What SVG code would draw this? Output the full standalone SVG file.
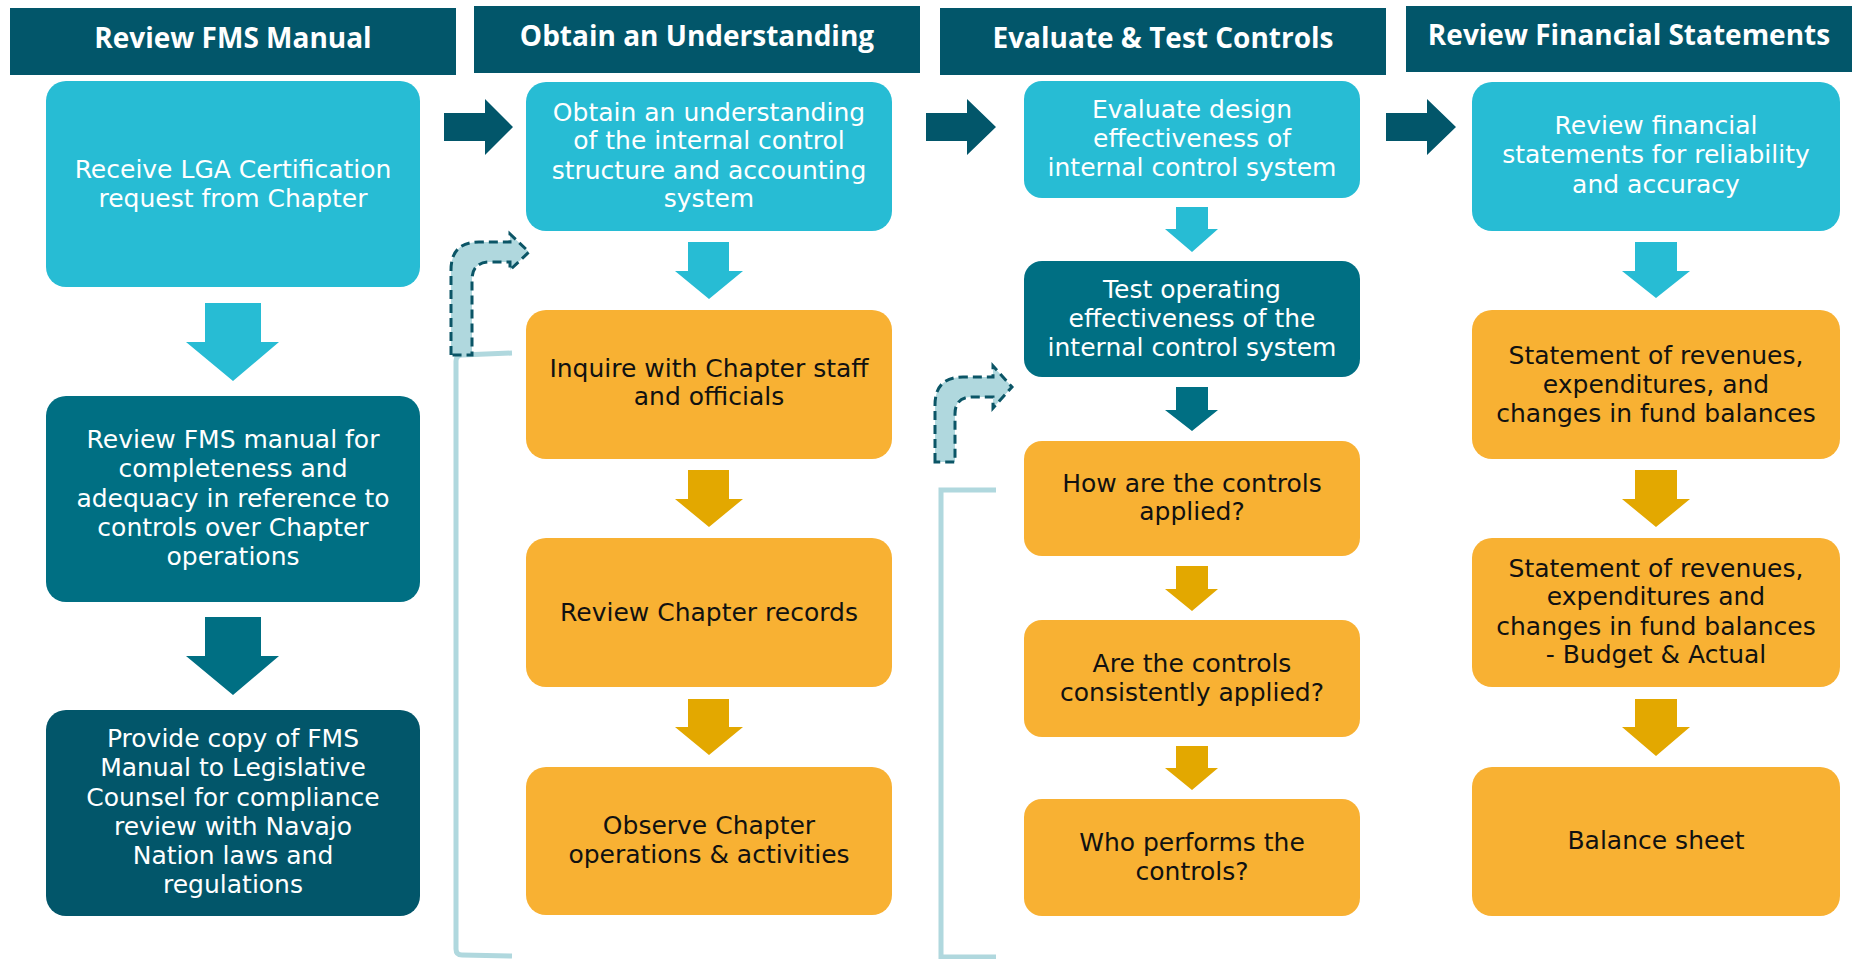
<svg xmlns="http://www.w3.org/2000/svg" width="1860" height="959" viewBox="0 0 1860 959">
<style>
.hdr{fill:#02566a}
.ht{font-family:"Open Sans","Liberation Sans",sans-serif;font-weight:700;font-size:28px;fill:#fff;text-anchor:middle}
.bt{font-family:"DejaVu Sans","Liberation Sans",sans-serif;font-size:25px;text-anchor:middle}
.w{fill:#fff}
.k{fill:#111}
.lb{fill:#27bcd4}
.tl{fill:#006f83}
.dk{fill:#02566a}
.yl{fill:#f8b133}
.ya{fill:#e3a800}
.brk{fill:none;stroke:#b0d8de;stroke-width:5}
.bend{fill:#b0d8de;stroke:#0b5566;stroke-width:3;stroke-dasharray:9 5}
</style>
<g id="headers">
<g id="h1"><rect class="hdr" x="10" y="8" width="446" height="67"/><text class="ht" x="233" y="48">Review FMS Manual</text></g>
<g id="h2"><rect class="hdr" x="474" y="6" width="446" height="67"/><text class="ht" x="697" y="46">Obtain an Understanding</text></g>
<g id="h3"><rect class="hdr" x="940" y="8" width="446" height="67"/><text class="ht" x="1163" y="48">Evaluate &amp; Test Controls</text></g>
<g id="h4"><rect class="hdr" x="1406" y="6" width="446" height="66"/><text class="ht" x="1629" y="45">Review Financial Statements</text></g>
</g>
<g id="n1a"><rect class="lb" x="46" y="81" width="374" height="206" rx="20"/><text class="bt w" x="233" y="178">Receive LGA Certification</text><text class="bt w" x="233" y="207">request from Chapter</text></g>
<g id="n1b"><rect class="tl" x="46" y="396" width="374" height="206" rx="20"/><text class="bt w" x="233" y="448">Review FMS manual for</text><text class="bt w" x="233" y="477">completeness and</text><text class="bt w" x="233" y="507">adequacy in reference to</text><text class="bt w" x="233" y="536">controls over Chapter</text><text class="bt w" x="233" y="565">operations</text></g>
<g id="n1c"><rect class="dk" x="46" y="710" width="374" height="206" rx="20"/><text class="bt w" x="233" y="747">Provide copy of FMS</text><text class="bt w" x="233" y="776">Manual to Legislative</text><text class="bt w" x="233" y="806">Counsel for compliance</text><text class="bt w" x="233" y="835">review with Navajo</text><text class="bt w" x="233" y="864">Nation laws and</text><text class="bt w" x="233" y="893">regulations</text></g>
<g id="n2a"><rect class="lb" x="526" y="82" width="366" height="149" rx="20"/><text class="bt w" x="709" y="121">Obtain an understanding</text><text class="bt w" x="709" y="149">of the internal control</text><text class="bt w" x="709" y="179">structure and accounting</text><text class="bt w" x="709" y="207">system</text></g>
<g id="n2b"><rect class="yl" x="526" y="310" width="366" height="149" rx="20"/><text class="bt k" x="709" y="377">Inquire with Chapter staff</text><text class="bt k" x="709" y="405">and officials</text></g>
<g id="n2c"><rect class="yl" x="526" y="538" width="366" height="149" rx="20"/><text class="bt k" x="709" y="621">Review Chapter records</text></g>
<g id="n2d"><rect class="yl" x="526" y="767" width="366" height="148" rx="20"/><text class="bt k" x="709" y="834">Observe Chapter</text><text class="bt k" x="709" y="863">operations &amp; activities</text></g>
<g id="n3a"><rect class="lb" x="1024" y="81" width="336" height="117" rx="18"/><text class="bt w" x="1192" y="118">Evaluate design</text><text class="bt w" x="1192" y="147">effectiveness of</text><text class="bt w" x="1192" y="176">internal control system</text></g>
<g id="n3b"><rect class="tl" x="1024" y="261" width="336" height="116" rx="18"/><text class="bt w" x="1192" y="298">Test operating</text><text class="bt w" x="1192" y="327">effectiveness of the</text><text class="bt w" x="1192" y="356">internal control system</text></g>
<g id="n3c"><rect class="yl" x="1024" y="441" width="336" height="115" rx="18"/><text class="bt k" x="1192" y="492">How are the controls</text><text class="bt k" x="1192" y="520">applied?</text></g>
<g id="n3d"><rect class="yl" x="1024" y="620" width="336" height="117" rx="18"/><text class="bt k" x="1192" y="672">Are the controls</text><text class="bt k" x="1192" y="701">consistently applied?</text></g>
<g id="n3e"><rect class="yl" x="1024" y="799" width="336" height="117" rx="18"/><text class="bt k" x="1192" y="851">Who performs the</text><text class="bt k" x="1192" y="880">controls?</text></g>
<g id="n4a"><rect class="lb" x="1472" y="82" width="368" height="149" rx="20"/><text class="bt w" x="1656" y="134">Review financial</text><text class="bt w" x="1656" y="163">statements for reliability</text><text class="bt w" x="1656" y="193">and accuracy</text></g>
<g id="n4b"><rect class="yl" x="1472" y="310" width="368" height="149" rx="20"/><text class="bt k" x="1656" y="364">Statement of revenues,</text><text class="bt k" x="1656" y="393">expenditures, and</text><text class="bt k" x="1656" y="422">changes in fund balances</text></g>
<g id="n4c"><rect class="yl" x="1472" y="538" width="368" height="149" rx="20"/><text class="bt k" x="1656" y="577">Statement of revenues,</text><text class="bt k" x="1656" y="605">expenditures and</text><text class="bt k" x="1656" y="635">changes in fund balances</text><text class="bt k" x="1656" y="663">- Budget &amp; Actual</text></g>
<g id="n4d"><rect class="yl" x="1472" y="767" width="368" height="149" rx="20"/><text class="bt k" x="1656" y="849">Balance sheet</text></g>
<g id="connectors">
<polygon class="lb" points="205,303 261,303 261,342 279,342 233,381 186,342 205,342"/>
<polygon class="tl" points="205,617 261,617 261,656 279,656 233,695 186,656 205,656"/>
<polygon class="lb" points="688,242 729,242 729,271 743,271 709,299 675,271 688,271"/>
<polygon class="ya" points="688,470 729,470 729,499 743,499 709,527 675,499 688,499"/>
<polygon class="ya" points="688,699 729,699 729,727 743,727 709,755 675,727 688,727"/>
<polygon class="lb" points="1176,207 1208,207 1208,229 1218,229 1192,252 1165,229 1176,229"/>
<polygon class="tl" points="1176,387 1208,387 1208,410 1218,410 1192,431 1165,410 1176,410"/>
<polygon class="ya" points="1176,566 1208,566 1208,589 1218,589 1192,611 1165,589 1176,589"/>
<polygon class="ya" points="1176,746 1208,746 1208,768 1218,768 1192,790 1165,768 1176,768"/>
<polygon class="lb" points="1635,242 1677,242 1677,271 1690,271 1656,298 1622,271 1635,271"/>
<polygon class="ya" points="1635,470 1677,470 1677,499 1690,499 1656,527 1622,499 1635,499"/>
<polygon class="ya" points="1635,699 1677,699 1677,727 1690,727 1656,756 1622,727 1635,727"/>
<polygon class="dk" points="444,113 485,113 485,99 513,127 485,155 485,141 444,141"/>
<polygon class="dk" points="926,113 967,113 967,99 996,127 967,155 967,141 926,141"/>
<polygon class="dk" points="1386,113 1427,113 1427,99 1456,127 1427,155 1427,141 1386,141"/>
<path class="brk" d="M512,353 L462,355 Q456,355 456,361 L456,949 Q456,955 462,955 L512,956"/>
<path class="brk" d="M996,490 L941,490 L941,957 L996,957"/>
<path class="bend" d="M451,355 L451,270 Q451,242 479,242 L510,242 L510,234 L529,252 L510,270 L510,262 L490,262 Q472,262 472,280 L472,355 Z"/>
<path class="bend" d="M935,462 L935,405 Q935,377 963,377 L993,377 L993,366 L1012,387 L993,408 L993,397 L972,397 Q955,397 955,414 L955,462 Z"/>
</g>
</svg>
